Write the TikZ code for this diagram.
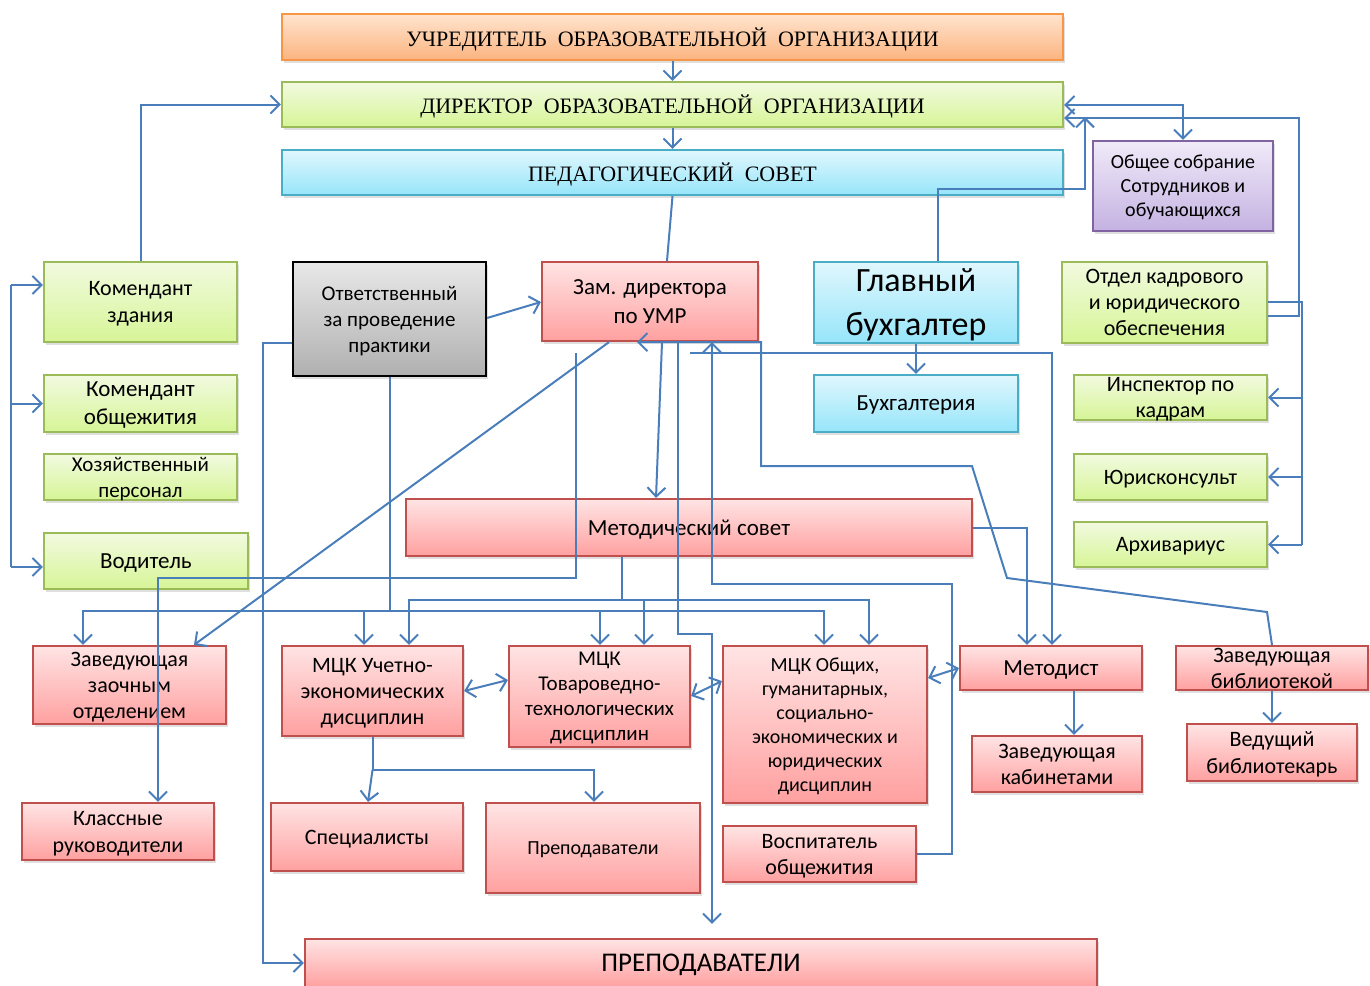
\documentclass[tikz,border=0pt]{standalone}
\usepackage{fontspec}
\setmainfont{Carlito}
\newfontfamily\tms{Liberation Serif}
\usepackage{tikz}
\usetikzlibrary{arrows.meta,shadows}

\definecolor{lnk}{RGB}{74,126,187}
\definecolor{redln}{RGB}{192,80,77}
\definecolor{redtp}{RGB}{255,228,228}
\definecolor{redbt}{RGB}{255,160,160}
\definecolor{grnln}{RGB}{155,187,89}
\definecolor{grntp}{RGB}{242,250,224}
\definecolor{grnbt}{RGB}{214,245,150}
\definecolor{cynln}{RGB}{75,172,198}
\definecolor{cyntp}{RGB}{224,247,253}
\definecolor{cynbt}{RGB}{150,229,250}
\definecolor{orgln}{RGB}{247,150,70}
\definecolor{orgtp}{RGB}{255,228,206}
\definecolor{orgbt}{RGB}{251,180,128}
\definecolor{purln}{RGB}{128,100,162}
\definecolor{purtp}{RGB}{240,234,248}
\definecolor{purbt}{RGB}{196,178,226}
\definecolor{gryln}{RGB}{0,0,0}
\definecolor{grytp}{RGB}{232,232,232}
\definecolor{grybt}{RGB}{176,176,176}

\tikzset{
  box/.style={draw, line width=1.1pt, inner sep=0pt, align=center, text depth=-1.5pt,
    drop shadow={shadow xshift=1.2pt, shadow yshift=-1.6pt, opacity=0.25}},
  wh/.style 2 args={minimum width=#1pt, minimum height=#2pt},
  fs/.style 2 args={font=\fontsize{#1}{#2}\selectfont},
  ser/.style={font=\tms\fontsize{11}{13}\selectfont},
  redbox/.style={box, draw=redln, top color=redtp, bottom color=redbt},
  grnbox/.style={box, draw=grnln, top color=grntp, bottom color=grnbt},
  cynbox/.style={box, draw=cynln, top color=cyntp, bottom color=cynbt},
  orgbox/.style={box, draw=orgln, top color=orgtp, bottom color=orgbt},
  purbox/.style={box, draw=purln, top color=purtp, bottom color=purbt},
  grybox/.style={box, draw=gryln, top color=grytp, bottom color=grybt},
  link/.style={draw=lnk, line width=1pt},
  arr/.style={link, -{Straight Barb[length=4.5pt,width=9pt,line width=1pt]}},
  darr/.style={link, {Straight Barb[length=4.5pt,width=9pt,line width=1pt]}-{Straight Barb[length=4.5pt,width=9pt,line width=1pt]}}
}

\begin{document}
\begin{tikzpicture}[x=0.5pt,y=-0.5pt]
\useasboundingbox (0,0) rectangle (1370,985);

\node[orgbox, wh={390.5}{23}, ser] (uchr) at (672.5,37) {УЧРЕДИТЕЛЬ \ ОБРАЗОВАТЕЛЬНОЙ \ ОРГАНИЗАЦИИ};
\node[grnbox, wh={390.5}{22.5}, ser] (dir) at (672.5,104.5) {ДИРЕКТОР \ ОБРАЗОВАТЕЛЬНОЙ \ ОРГАНИЗАЦИИ};
\node[cynbox, wh={390.5}{22.5}, ser] (pedsov) at (672.5,172.5) {ПЕДАГОГИЧЕСКИЙ \ СОВЕТ};
\node[purbox, wh={90}{45}, fs={10}{12}] (sobr) at (1183,186) {Общее собрание\\Сотрудников и\\обучающихся};

\node[grnbox, wh={96.5}{40}, fs={11}{13.3}] (komzd) at (140.5,302) {Комендант\\здания};
\node[grybox, wh={96.5}{57}, fs={10.5}{13}] (otv) at (389.5,319) {Ответственный\\за проведение\\практики};
\node[redbox, wh={108}{39.5}, fs={11.5}{14.5}] (zam) at (650,301.5) {Зам. директора\\по УМР};
\node[cynbox, wh={102}{40.5}, fs={17}{22}] (glbuh) at (916,302.5) {Главный\\бухгалтер};
\node[grnbox, wh={102.5}{40.5}, fs={11}{13}] (otdel) at (1164.5,302.5) {Отдел кадрового\\и юридического\\обеспечения};

\node[grnbox, wh={96.5}{28.5}, fs={11.5}{14}] (komob) at (140.5,403.5) {Комендант\\общежития};
\node[grnbox, wh={96.5}{23}, fs={10.5}{13}] (hoz) at (140.5,477) {Хозяйственный\\персонал};
\node[grnbox, wh={102}{28}, fs={11.5}{14}] (vod) at (146,561) {Водитель};
\node[cynbox, wh={102}{28.5}, fs={11.5}{14}] (buh) at (916,403.5) {Бухгалтерия};
\node[grnbox, wh={96.5}{22.5}, fs={11}{13}] (insp) at (1170.5,397.5) {Инспектор по\\кадрам};
\node[grnbox, wh={96.5}{23}, fs={11}{13}] (jur) at (1170.5,477) {Юрисконсульт};
\node[grnbox, wh={96.5}{22.5}, fs={11}{13}] (arh) at (1170.5,544.5) {Архивариус};
\node[redbox, wh={283}{28.5}, fs={11.5}{14}] (metsov) at (689,527.5) {Методический совет};

\node[redbox, wh={96.5}{39}, fs={11}{13}] (zaoch) at (129.5,685) {Заведующая\\заочным\\отделением};
\node[redbox, wh={90.5}{45}, fs={11}{13}] (mck1) at (372.5,691) {МЦК Учетно-\\экономических\\дисциплин};
\node[redbox, wh={90.5}{50.5}, fs={10.5}{12.5}] (mck2) at (599.5,696.5) {МЦК\\Товароведно-\\технологических\\дисциплин};
\node[redbox, wh={102}{78.5}, fs={10}{12}] (mck3) at (825,724.5) {МЦК Общих,\\гуманитарных,\\социально-\\экономических и\\юридических\\дисциплин};
\node[redbox, wh={91}{22}, fs={11.5}{14}] (metod) at (1051,668) {Методист};
\node[redbox, wh={96}{22}, fs={11}{13}] (zavbib) at (1272,668) {Заведующая\\библиотекой};
\node[redbox, wh={85}{28}, fs={11}{13}] (zavkab) at (1057,764) {Заведующая\\кабинетами};
\node[redbox, wh={85}{28.5}, fs={11}{13.5}] (vedbib) at (1272,752.5) {Ведущий\\библиотекарь};
\node[redbox, wh={96}{28.5}, fs={11}{13.5}] (klass) at (118,831.5) {Классные\\руководители};
\node[redbox, wh={96}{34}, fs={11}{13}] (spec) at (367,837) {Специалисты};
\node[redbox, wh={107}{45}, fs={10}{12}] (prep) at (593,848) {Преподаватели};
\node[redbox, wh={96.5}{28}, fs={11}{13}] (vosp) at (819.5,854) {Воспитатель\\общежития};
\node[redbox, wh={396}{24}, fs={13.5}{16}] (PREP) at (701,963) {ПРЕПОДАВАТЕЛИ};

\draw[arr] (uchr) -- (dir);
\draw[arr] (dir) -- (pedsov);
\draw[link] (pedsov.south) -- (zam.north -| 667,0);
\draw[arr] (komzd.north) |- (dir.west);
\draw[darr] (dir.east |- 0,105) -| (sobr.north);
\draw[arr] (glbuh.north -| 938,0) |- (1085,189) -- (1085,117);
\draw[arr] (otdel.east |- 0,316) -| (1299,118) -- (dir.east |- 0,118);
\draw[arr] (glbuh) -- (buh);

\coordinate (lb) at (11,285);
\coordinate (lb2) at (11,567);
\draw[link] (lb) -- (lb2);
\draw[arr] (lb) -- (lb -| komzd.west);
\draw[arr] (lb |- komob) -- (komob.west);
\draw[arr] (lb2) -- (lb2 -| vod.west);

\coordinate (rb) at (1302,302);
\coordinate (rb2) at (1302,544.5);
\draw[link] (otdel.east |- rb) -- (rb) -- (rb2);
\draw[arr] (rb |- insp) -- (insp.east);
\draw[arr] (rb |- jur) -- (jur.east);
\draw[arr] (rb2) -- (arh.east);

\draw[arr] (otv.east |- 0,318) -- (zam.west |- 0,302);
\draw[arr] (otv.west |- 0,343) -| (263,963) -- (PREP.west);
\coordinate (h1) at (389.5,611);
\draw[link] (otv.south) -- (h1);
\draw[arr] (h1) -| (zaoch.north -| 83,0);
\draw[arr] (h1) -| (mck1.north -| 364,0);
\draw[arr] (h1) -| (mck2.north -| 600,0);
\draw[arr] (h1) -| (mck3.north -| 824,0);

\coordinate (h2) at (622,600);
\draw[link] (metsov.south -| h2) -- (h2);
\draw[arr] (h2) -| (mck1.north -| 409,0);
\draw[arr] (h2) -| (mck2.north -| 644,0);
\draw[arr] (h2) -| (mck3.north -| 869,0);

\draw[arr] (zam.south -| 609,0) -- (zaoch.north -| 194,0);
\draw[arr] (576,353) |- (158,578) -- (klass.north -| 158,0);
\draw[arr] (zam.south -| 662,0) -- (metsov.north -| 656,0);
\draw[arr, shorten >=7pt] (zam.south -| 678,0) -- (678,634) -- (712,634) -- (PREP.north -| 712,0);
\draw[arr] (vosp.east) -| (952,584) -| (zam.south -| 712,0);
\draw[arr] (690,353) -| (metod.north -| 1052,0);
\draw[arr] (zavbib.north) -- (1267,612) -- (1007,578) -- (972,466) -- (761,466) -- (zam.south -| 761,0) -- (zam.south -| 637,0);
\draw[arr] (metsov.east) -| (metod.north -| 1027,0);

\draw[darr] (mck1.east |- 0,691) -- (mck2.west |- 0,680);
\draw[darr] (mck2.east |- 0,696) -- (mck3.west |- 0,681);
\draw[darr] (mck3.east |- 0,678) -- (metod.west |- 0,668);

\coordinate (h3) at (372.5,770);
\draw[link] (mck1.south) -- (h3);
\draw[arr] (h3) -- (spec.north -| 368,0);
\draw[arr] (h3) -| (prep.north -| 594,0);

\draw[arr] (metod.south -| 1074,0) -- (zavkab.north -| 1074,0);
\draw[arr] (zavbib) -- (vedbib);
\end{tikzpicture}
\end{document}
